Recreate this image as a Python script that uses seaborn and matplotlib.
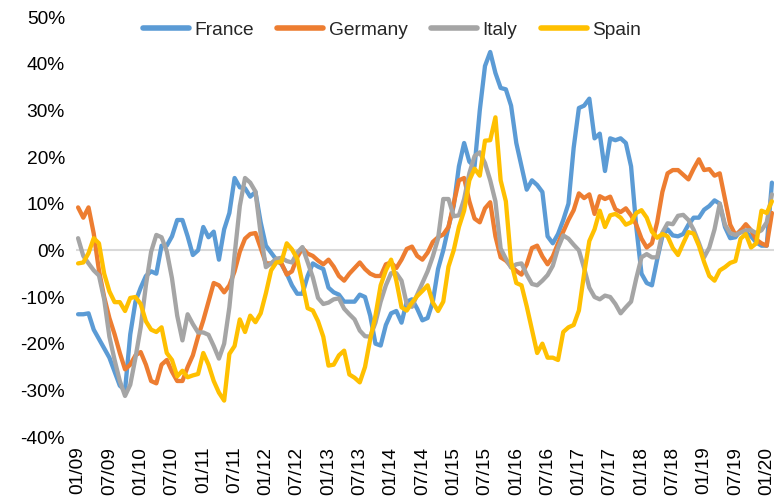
import numpy as np
import pandas as pd
import matplotlib
matplotlib.use("Agg")
import matplotlib.pyplot as plt
import seaborn as sns

# Monthly y/y change, 01/09 .. 02/20 (134 months)
france = [
    -13.7, -13.7, -13.5, -17, -19, -21, -23, -26, -29, -30,
    -18, -11, -8, -5.5, -4.5, -5, 1, 1, 3, 6.5,
    6.5, 3, -1, 0, 5, 2.8, 4, -2, 4.5, 8,
    15.5, 13.5, 13.3, 11.5, 12.5, 6, 1, -0.5, -2, -3,
    -5, -7.5, -9.3, -9.3, -5.5, -2.8, -3.5, -4, -8, -9,
    -9.5, -11, -11, -11, -9.5, -10, -14, -20, -20.4, -16,
    -13.5, -13, -15.5, -11, -10.5, -12.5, -15, -14.5, -11, -4,
    0, 5, 9.5, 18, 23, 19, 18, 30, 39.5, 42.5,
    38, 34.8, 34.5, 31, 23, 18, 13, 15, 14, 12.5,
    3, 1.5, 3.5, 6.5, 10, 22, 30.5, 31, 32.5, 24,
    25, 17, 24, 23.6, 24, 23, 18, 5, -5, -7,
    -7.5, -2, 3, 4.5, 3.2, 3, 3.5, 5.5, 7, 7,
    8.7, 9.5, 10.7, 10, 5, 2.6, 2.8, 4.3, 3.8, 3,
    1.7, 1, 1, 14.5,
]
germany = [
    9.2, 7, 9.2, 3.6, -4.3, -10, -14.5, -18, -22, -25.5,
    -24.5, -22.5, -21.8, -24.5, -28, -28.5, -24.5, -23.5, -26, -28,
    -28, -25, -22.5, -18.5, -15, -11, -7, -7.5, -9, -7.5,
    -4.5, -0.3, 2.5, 3.5, 3.7, 0.5, -2.8, -2.8, -2.2, -2.8,
    -5.2, -4.5, -1.5, 0.5, -0.7, -1.2, -2.2, -3, -2, -3.5,
    -5.5, -6.5, -5, -3.8, -2.6, -4, -5, -5.5, -5.5, -3,
    -2.6, -3.8, -2, 0.3, 0.8, -1.2, -2, -0.5, 1.8, 2.8,
    3.4, 5, 10, 15, 15.5, 10.5, 6.8, 6, 9, 10.3,
    3, -1.5, -2.2, -3.4, -4.4, -5.2, -3, 0.5, 1, -1.3,
    -3, -1.3, 1.5, 4, 6.5, 8.6, 12.2, 11.2, 12, 7.8,
    11.6, 11, 11.5, 8.8, 8.2, 9, 7.5, 5.5, 2.5, 0.6,
    1.5, 6, 12.5, 16.5, 17.2, 17.2, 16.2, 15.2, 17.5, 19.5,
    17.2, 17.4, 16, 16.5, 11, 5.5, 3.3, 4.2, 5.6, 4.3,
    2.3, 1.5, 1, 8,
]
italy = [
    2.6, -1.2, -2.8, -4.3, -5.4, -10.5, -18.5, -23.5, -28, -31.2,
    -28.8, -23, -16.5, -7.5, -0.3, 3.3, 2.8, -0.2, -6, -14,
    -19.3, -13.7, -15.8, -17.6, -17.6, -18.1, -20.5, -23.2, -20, -12.2,
    -1, 9.5, 15.5, 14.5, 12.6, 3.5, -3.6, -2.8, -1.8, -1.6,
    -2.3, -2.6, -0.5, 0.7, -2.5, -5.8, -10.2, -11.5, -11.2, -10.5,
    -10.3, -12.5, -13.7, -14.8, -17.2, -18.4, -18.5, -15.5, -11, -7.5,
    -4.9, -4.9, -6.5, -11.5, -12.1, -9.5, -7, -4.5, -1.3, 2.5,
    11, 11, 7.3, 7.5, 11, 16.5, 20.2, 21, 18.7, 15,
    10.5, 0.4, -1.8, -3.7, -3, -2.8, -5.2, -7.2, -7.5, -6.5,
    -5.3, -3.3, 0.5, 3.2, 2.5, 1.2, 0, -3.8, -8, -10,
    -10.5, -9.7, -10, -11.5, -13.5, -12.2, -11, -6, -1.5, -0.8,
    -1.5, -1.5, 3.8, 5.8, 5.6, 7.4, 7.6, 6.5, 4.4, 1.6,
    -1.5, 0.6, 4.5, 10, 5.5, 3.7, 3.3, 3.8, 4.3, 4.3,
    3.7, 4.3, 6, 12,
]
spain = [
    -2.8, -2.6, -0.6, 2.6, 1.5, -5, -8.8, -11.1, -11.1, -13,
    -10.2, -10, -11.5, -15.2, -17, -17.5, -16.5, -22, -23.5, -27,
    -25.8, -27.2, -26.8, -26.5, -22, -24.5, -28, -30.5, -32.2, -22.2,
    -20.5, -14.8, -17.5, -14, -15.4, -13.5, -9.2, -4.3, -2.6, -2.4,
    1.5, 0.2, -1.8, -7, -12.4, -12.9, -15.2, -18.5, -24.7, -24.5,
    -22.5, -21.5, -26.6, -27.3, -28.3, -25, -19, -14, -7.5, -4.3,
    -2, -6.5, -12.2, -12.9, -11.2, -9.8, -8.7, -7.5, -11.2, -13,
    -11, -3.5, 0, 5, 8.5, 15, 17.5, 16, 23.5, 23.6,
    28.5, 15, 10.5, -2.5, -7, -7.5, -12, -17, -22, -20,
    -23, -23, -23.5, -17.5, -16.5, -16, -12.9, -5, 2, 4.5,
    8.5, 5, 7.5, 7.8, 7, 5.5, 6, 8, 8.6, 7,
    4, 2.7, 3.5, 3, 0.5, -1, 1.5, 3.9, 3.6, 1,
    -2.5, -5.5, -6.5, -4.3, -3.6, -2.7, -2.3, 2.5, 3.5, 0.6,
    1.5, 8.5, 8, 10.5,
]
countries = ["France", "Germany", "Italy", "Spain"]
colors = ["#5B9BD5", "#ED7D31", "#A5A5A5", "#FFC000"]
tick_labels = ["01/09", "07/09", "01/10", "07/10", "01/11", "07/11", "01/12",
               "07/12", "01/13", "07/13", "01/14", "07/14", "01/15", "07/15",
               "01/16", "07/16", "01/17", "07/17", "01/18", "07/18", "01/19",
               "07/19", "01/20"]
y_ticks = [-40, -30, -20, -10, 0, 10, 20, 30, 40, 50]

# long format for seaborn
frames = []
for name, vals in zip(countries, [france, germany, italy, spain]):
    frames.append(pd.DataFrame({"month": np.arange(len(vals)), "value": vals, "country": name}))
df = pd.concat(frames, ignore_index=True)

sns.set_style("white")
plt.rcParams["font.family"] = ["Liberation Sans", "DejaVu Sans"]

fig = plt.figure(figsize=(7.75, 5.04), dpi=100)
ax = fig.add_axes([76 / 775, 1 - 437 / 504, (774 - 76) / 775, (437 - 17) / 504])

ax.axhline(0, color="#D9D9D9", lw=1.5, zorder=0)
sns.lineplot(data=df, x="month", y="value", hue="country", hue_order=countries,
             palette=colors, lw=3.1, ax=ax, legend=False)

ax.set_xlim(-0.4, len(france) - 0.6)
ax.set_ylim(-40, 50)
ax.set_xticks(np.arange(0, 6 * len(tick_labels), 6))
ax.set_xticklabels(tick_labels, rotation=90)
ax.set_yticks(y_ticks)
ax.set_yticklabels([f"{v}%" for v in y_ticks])
ax.tick_params(axis="both", length=0, labelsize=13.8, colors="#000000")
ax.tick_params(axis="x", pad=7)
ax.tick_params(axis="y", pad=8)
ax.set_xlabel("")
ax.set_ylabel("")
for s in ax.spines.values():
    s.set_visible(False)

handles = [plt.Line2D([], [], color=c, lw=4) for c in colors]
fig.legend(handles, countries, loc="center", bbox_to_anchor=(392 / 775, 1 - 30 / 504),
           ncol=4, frameon=False, fontsize=13.8, handlelength=2.4,
           handletextpad=0.3, columnspacing=1.2)

fig.savefig("out.png", dpi=100)
